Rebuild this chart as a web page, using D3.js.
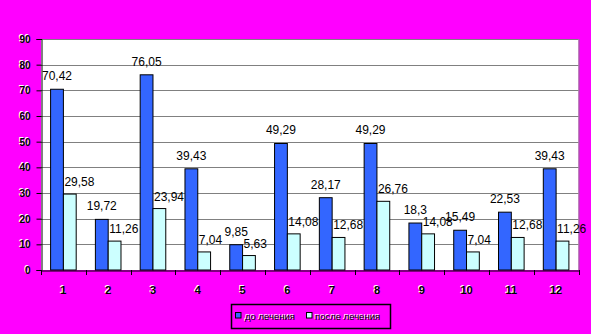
<!DOCTYPE html>
<html><head><meta charset="utf-8">
<script src="https://cdn.jsdelivr.net/npm/d3@7"></script>
<style>
html,body{margin:0;padding:0;background:#FF00FF;}
svg{display:block;}
text{font-family:"Liberation Sans",Arial,sans-serif;}
</style></head>
<body><svg id="c" width="591" height="334"></svg>
<script>
const categories = ["1","2","3","4","5","6","7","8","9","10","11","12"];
const seriesNames = ["до лечения","после лечения"];
const before = [70.42,19.72,76.05,39.43,9.85,49.29,28.17,49.29,18.3,15.49,22.53,39.43];
const after = [29.58,11.26,23.94,7.04,5.63,14.08,12.68,26.76,14.08,7.04,12.68,11.26];
const yTicks = [0,10,20,30,40,50,60,70,80,90];
const colors = ["#3366FF","#CCFFFF"];

const svg = d3.select("#c");
const L = 41, R = 578.5, T = 39, B = 270;
const x = d3.scaleBand().domain(categories).range([L, R]).paddingInner(0).paddingOuter(0);
const y = d3.scaleLinear().domain([0, 90]).range([B, T]);
const bw = x.bandwidth() / 3.5;
const fmt = v => String(v).replace(".", ",");

svg.append("rect").attr("x", L).attr("y", T).attr("width", R - L).attr("height", B - T).attr("fill", "#fff");
svg.append("g").selectAll("line").data(yTicks.filter(d => d > 0)).join("line")
  .attr("x1", L).attr("x2", R).attr("y1", d => Math.round(y(d)) + 0.5).attr("y2", d => Math.round(y(d)) + 0.5)
  .attr("stroke", "#808080").attr("stroke-width", 1);
svg.append("line").attr("x1", R + 0.5).attr("x2", R + 0.5).attr("y1", T).attr("y2", B).attr("stroke", "#808080");

const data = categories.map((c, i) => ({c, v: [before[i], after[i]]}));
const g = svg.append("g");
data.forEach(d => {
  d.v.forEach((v, s) => {
    const x0 = x(d.c) + (x.bandwidth() - 2 * bw) / 2 + s * bw;
    g.append("rect").attr("x", x0).attr("y", y(v)).attr("width", bw).attr("height", y(0) - y(v))
      .attr("fill", colors[s]).attr("stroke", "#000").attr("stroke-width", 1);
    const t = g.append("text").attr("y", y(v) - (s === 0 ? 9 : 8)).attr("font-size", 12).attr("fill", "#000").text(fmt(v));
    if (s === 0) t.attr("x", x0 + bw / 2).attr("text-anchor", "middle");
    else t.attr("x", x0 + 1).attr("text-anchor", "start");
  });
});

// axes
const yAxis = svg.append("g").attr("transform", `translate(${L + 0.5},0)`)
  .call(d3.axisLeft(y).tickValues(yTicks).tickSize(5).tickPadding(6).tickFormat(d => d));
const xAxis = svg.append("g").attr("transform", `translate(0,${B + 0.5})`)
  .call(d3.axisBottom(x).tickSize(0).tickPadding(16));
[yAxis, xAxis].forEach(a => {
  a.select(".domain").attr("stroke", "#000");
  a.selectAll(".tick line").attr("stroke", "#000");
  a.selectAll(".tick text").attr("fill", "#000").attr("font-weight", "bold")
    .style("paint-order", "normal").attr("font-family", "Liberation Sans, Arial, sans-serif");
});
yAxis.selectAll(".tick text").attr("font-size", 10).attr("dy", "0.35em");
xAxis.selectAll(".tick text").attr("font-size", 11);
// category boundary ticks
svg.append("g").selectAll("line").data(d3.range(categories.length + 1)).join("line")
  .attr("x1", i => Math.round(L + i * x.bandwidth()) + 0.5).attr("x2", i => Math.round(L + i * x.bandwidth()) + 0.5)
  .attr("y1", B).attr("y2", B + 5).attr("stroke", "#000");
// white highlight copies
[yAxis, xAxis].forEach(a => {
  a.selectAll(".tick text").each(function() {
    const n = this.cloneNode(true);
    n.setAttribute("fill", "#fff");
    n.setAttribute("transform", "translate(-1,-1)");
    this.parentNode.insertBefore(n, this);
  });
});

// legend
const lg = svg.append("g");
lg.append("rect").attr("x", 231.5).attr("y", 304.5).attr("width", 159).attr("height", 24)
  .attr("fill", "none").attr("stroke", "#000").attr("stroke-width", 1.5);
const items = [{x: 235, tx: 245}, {x: 306, tx: 315}];
seriesNames.forEach((n, i) => {
  lg.append("rect").attr("x", items[i].x + 0.5).attr("y", 312.5).attr("width", 5.5).attr("height", 5.5)
    .attr("fill", colors[i]).attr("stroke", "#000");
  lg.append("text").attr("x", items[i].tx - 1).attr("y", 319).attr("font-size", 9.5).attr("fill", "#fff").text(n);
  lg.append("text").attr("x", items[i].tx).attr("y", 320).attr("font-size", 9.5).attr("fill", "#000").text(n);
});
</script></body></html>
